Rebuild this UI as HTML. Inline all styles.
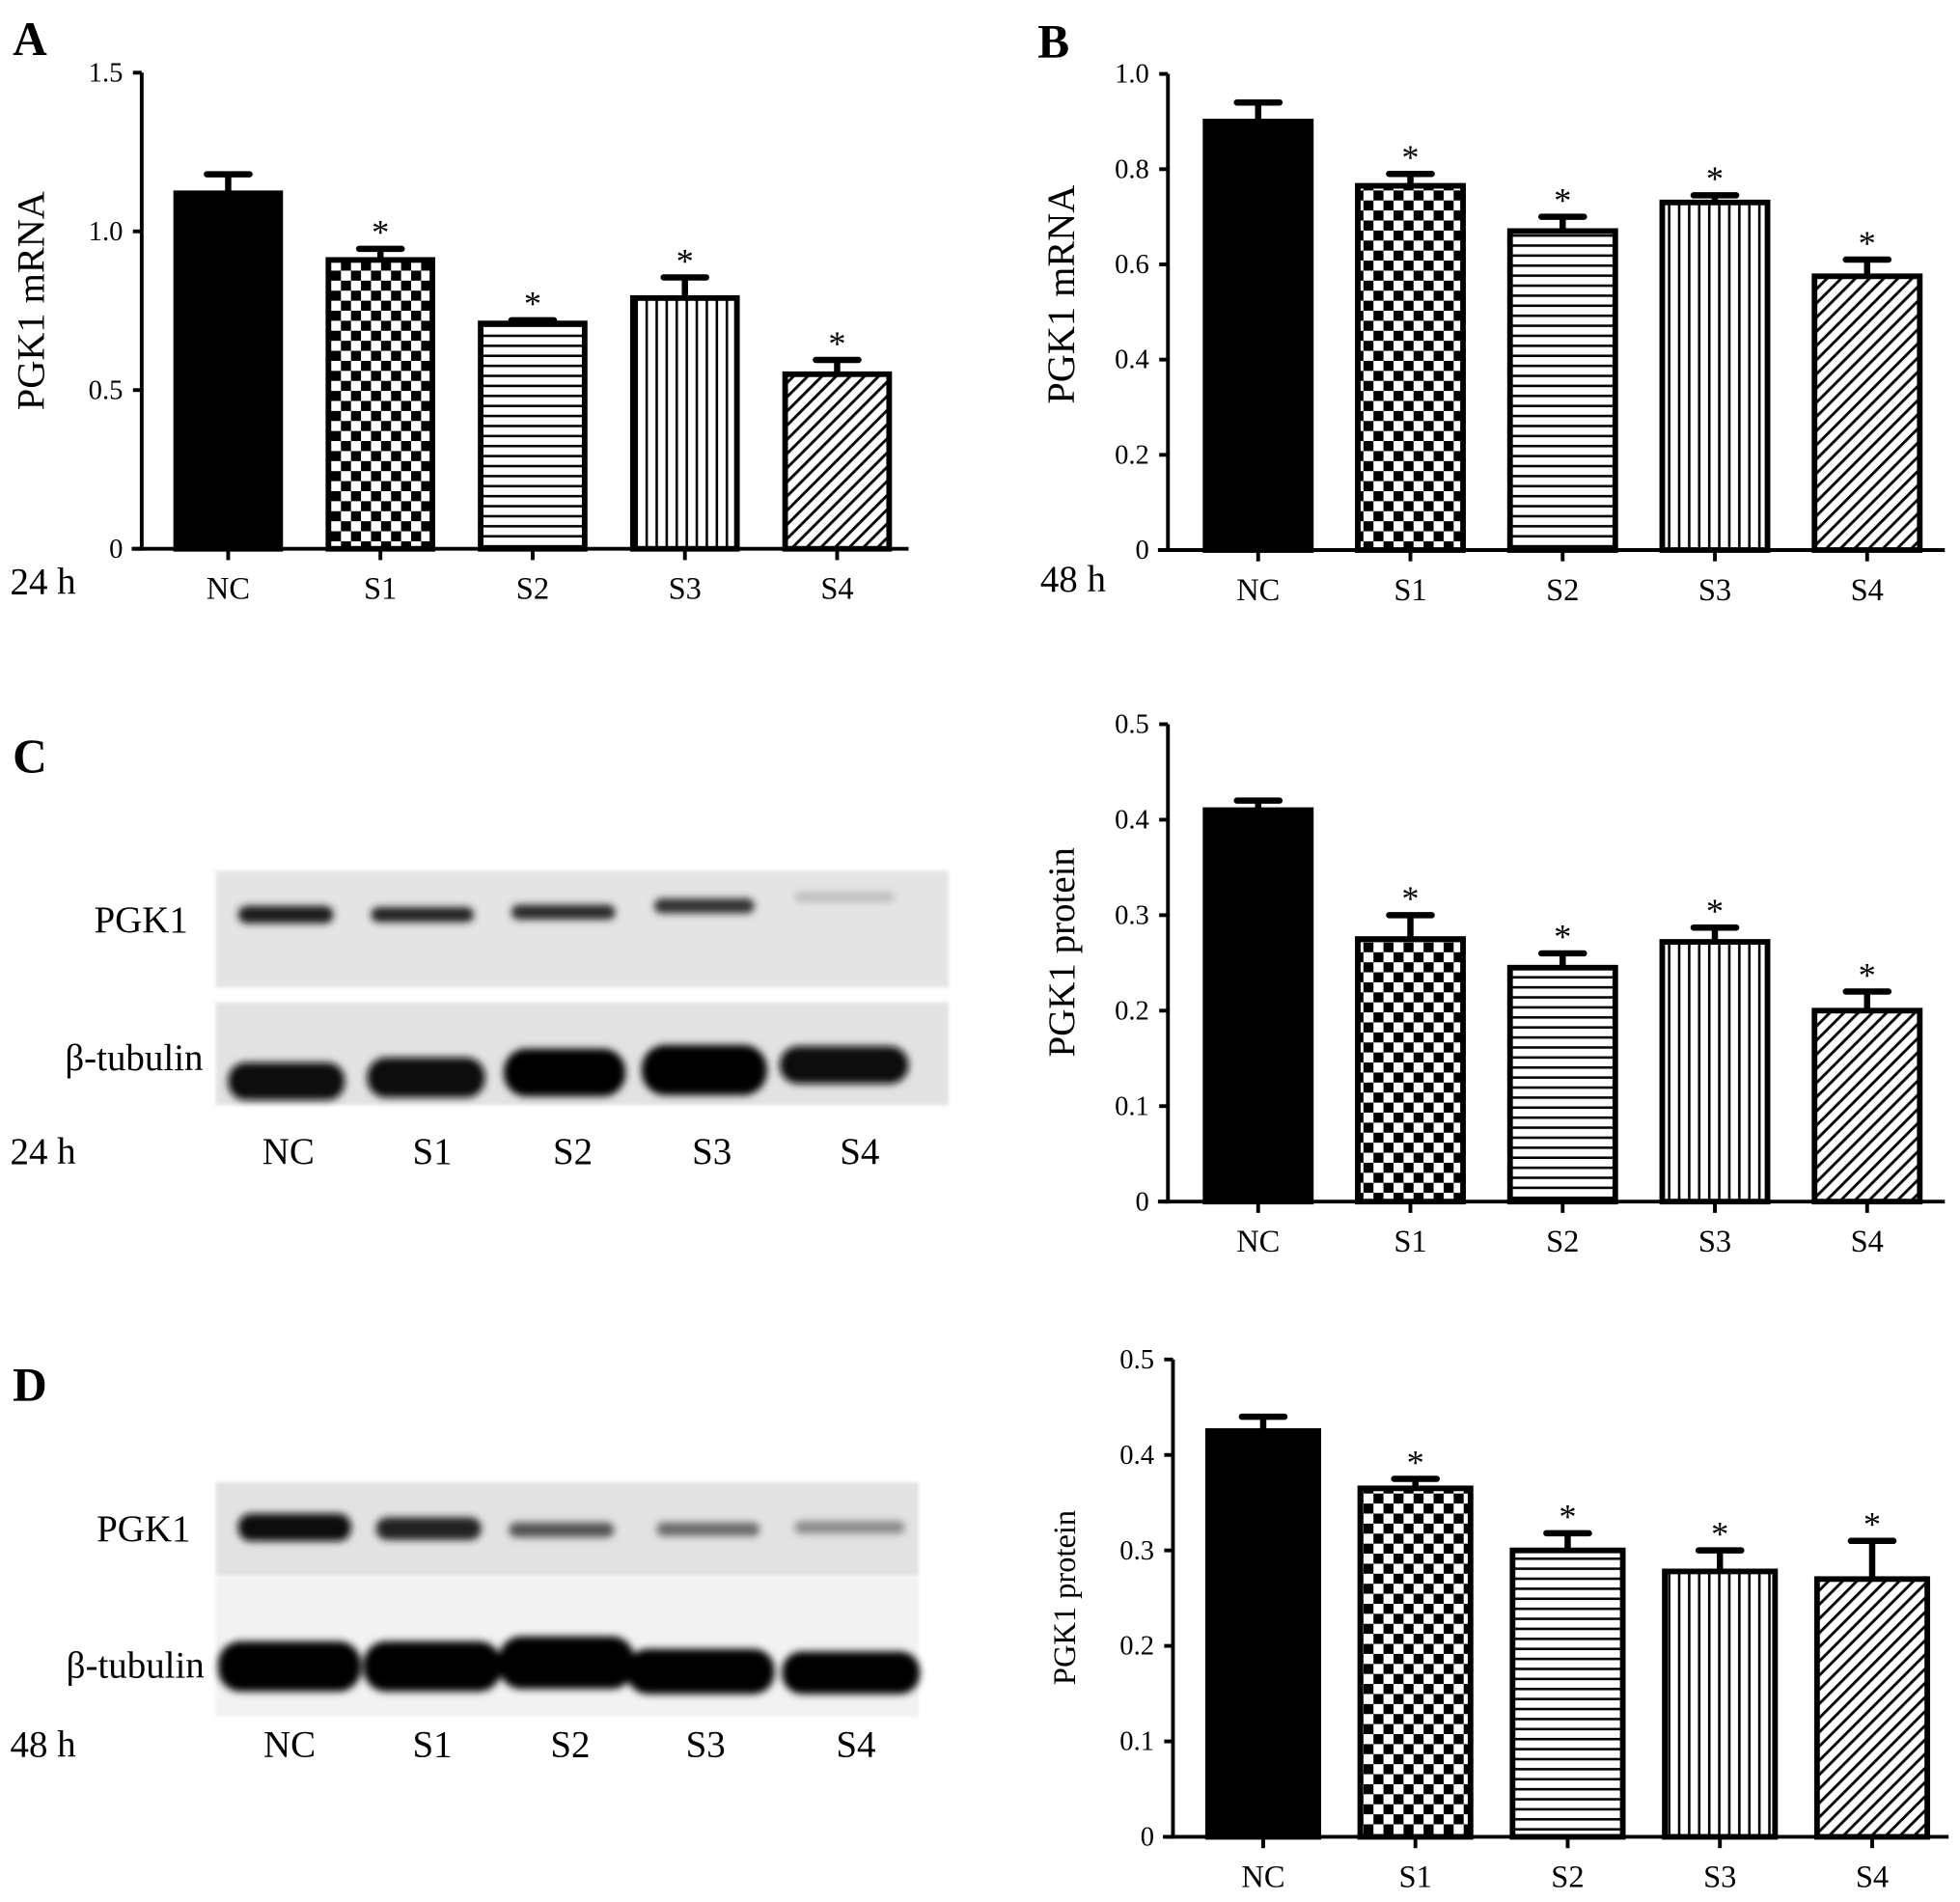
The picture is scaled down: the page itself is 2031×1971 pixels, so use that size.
<!DOCTYPE html>
<html><head><meta charset="utf-8">
<style>
html,body{margin:0;padding:0;background:#fff;}
svg{display:block;font-family:"Liberation Serif",serif;}
</style></head>
<body>
<svg id="fig" width="2031" height="1971" viewBox="0 0 1564 1518" xmlns="http://www.w3.org/2000/svg">
<defs>
<pattern id="p-check" width="16" height="16" patternUnits="userSpaceOnUse">
<rect width="16" height="16" fill="#fff"/><rect width="8" height="8" fill="#000"/><rect x="8" y="8" width="8" height="8" fill="#000"/></pattern>
<pattern id="p-hor" width="8" height="8" patternUnits="userSpaceOnUse">
<rect width="8" height="8" fill="#fff"/><rect y="3" width="8" height="2" fill="#000"/></pattern>
<pattern id="p-ver" width="8" height="8" patternUnits="userSpaceOnUse">
<rect width="8" height="8" fill="#fff"/><rect x="3" width="2" height="8" fill="#000"/></pattern>
<pattern id="p-diag" width="8" height="8" patternUnits="userSpaceOnUse" patternTransform="rotate(45)">
<rect width="8" height="8" fill="#fff"/><rect x="3" width="2.2" height="8" fill="#000"/></pattern>
<filter id="blur" x="-20%" y="-50%" width="140%" height="200%"><feGaussianBlur stdDeviation="3"/></filter>
<filter id="blur2"><feGaussianBlur stdDeviation="1.5"/></filter>
</defs>

<text x="10" y="44" font-size="38" font-weight="bold">A</text>
<text x="828" y="46" font-size="38" font-weight="bold">B</text>
<text x="10" y="616" font-size="38" font-weight="bold">C</text>
<text x="10" y="1118" font-size="38" font-weight="bold">D</text>

<g>
<rect x="172" y="695" width="585" height="93" fill="#e4e4e4" filter="url(#blur2)"/>
<rect x="172" y="800" width="585" height="82" fill="#e2e2e2" filter="url(#blur2)"/>
<g filter="url(#blur)">
<rect x="190" y="723" width="76" height="14" rx="7" fill="#1c1c1c"/>
<rect x="296" y="724" width="82" height="12" rx="6" fill="#222"/>
<rect x="408" y="722" width="83" height="12" rx="6" fill="#2a2a2a"/>
<rect x="522" y="717" width="80" height="12" rx="6" fill="#303030"/>
<rect x="634" y="712" width="80" height="8" rx="4" fill="#bdbdbd"/>
<rect x="182" y="848" width="93" height="30" rx="14" fill="#0a0a0a"/>
<rect x="293" y="844" width="94" height="32" rx="15" fill="#0a0a0a"/>
<rect x="402" y="837" width="97" height="38" rx="18" fill="#050505"/>
<rect x="512" y="834" width="100" height="40" rx="19" fill="#050505"/>
<rect x="622" y="835" width="103" height="30" rx="15" fill="#080808"/>
</g>
</g>
<text x="150" y="744" font-size="30" text-anchor="end">PGK1</text>
<text x="162" y="854" font-size="30" text-anchor="end">β-tubulin</text>
<text x="8" y="929" font-size="30">24 h</text>
<g font-size="30" text-anchor="middle">
<text x="230" y="929">NC</text><text x="345" y="929">S1</text><text x="457" y="929">S2</text><text x="568" y="929">S3</text><text x="686" y="929">S4</text></g>

<g>
<rect x="172" y="1183" width="561" height="75" fill="#e2e2e2" filter="url(#blur2)"/>
<rect x="172" y="1258" width="561" height="112" fill="#f2f2f2" filter="url(#blur2)"/>
<g filter="url(#blur)">
<rect x="190" y="1208" width="90" height="22" rx="10" fill="#0d0d0d"/>
<rect x="300" y="1211" width="84" height="18" rx="9" fill="#222"/>
<rect x="406" y="1215" width="84" height="12" rx="6" fill="#555"/>
<rect x="524" y="1215" width="82" height="11" rx="5" fill="#6a6a6a"/>
<rect x="634" y="1214" width="88" height="10" rx="5" fill="#8a8a8a"/>
<rect x="174" y="1310" width="114" height="40" rx="18" fill="#050505"/>
<rect x="290" y="1310" width="110" height="40" rx="18" fill="#050505"/>
<rect x="398" y="1306" width="108" height="42" rx="18" fill="#050505"/>
<rect x="500" y="1316" width="118" height="36" rx="17" fill="#050505"/>
<rect x="624" y="1318" width="110" height="34" rx="16" fill="#050505"/>
</g>
</g>
<text x="152" y="1230" font-size="30" text-anchor="end">PGK1</text>
<text x="163" y="1339" font-size="30" text-anchor="end">β-tubulin</text>
<text x="8" y="1402" font-size="30">48 h</text>
<g font-size="30" text-anchor="middle">
<text x="231" y="1402">NC</text><text x="345" y="1402">S1</text><text x="455" y="1402">S2</text><text x="563" y="1402">S3</text><text x="683" y="1402">S4</text></g>

<text x="8" y="474" font-size="30">24 h</text>
<text x="830" y="472" font-size="30">48 h</text>
</svg>

<script>
const categories = ["NC","S1","S2","S3","S4"];
const valuesA = [1.12, 0.91, 0.71, 0.79, 0.55];
const errA = [0.06, 0.035, 0.01, 0.065, 0.045];
const valuesB = [0.90, 0.765, 0.67, 0.73, 0.575];
const errB = [0.04, 0.025, 0.03, 0.015, 0.035];
const valuesC = [0.41, 0.275, 0.245, 0.272, 0.20];
const errC = [0.01, 0.025, 0.015, 0.015, 0.02];
const valuesD = [0.425, 0.365, 0.30, 0.278, 0.27];
const errD = [0.015, 0.01, 0.018, 0.022, 0.04];
const ticksA = ["0","0.5","1.0","1.5"];
const ticksB = ["0","0.2","0.4","0.6","0.8","1.0"];
const ticksCD = ["0","0.1","0.2","0.3","0.4","0.5"];
const sig = [false, true, true, true, true];

const NS = "http://www.w3.org/2000/svg";
const svg = document.getElementById("fig");
const fills = ["#000","url(#p-check)","url(#p-hor)","url(#p-ver)","url(#p-diag)"];
function mk(tag, attrs, parent){const e=document.createElementNS(NS,tag);for(const k in attrs)e.setAttribute(k,attrs[k]);(parent||svg).appendChild(e);return e;}

function chart(cfg){
  const g = mk("g",{});
  
  
  const ymax = parseFloat(cfg.ticks[cfg.ticks.length-1]);
  const y = v => cfg.y0 - (v/ymax)*(cfg.y0-cfg.yTop);
  const x = i => cfg.firstC + i*cfg.step;
  cfg.vals.forEach((v,i)=>{
    const top = y(v), e = y(v+cfg.err[i]);
    const eb = mk("path",{d:`M${x(i)} ${top} V${e} M${x(i)-17} ${e} H${x(i)+17}`,stroke:"#000","stroke-width":5,"stroke-linecap":"round",fill:"none"},g);
    
    
    const r = mk("rect",{x:x(i)-cfg.bw/2,y:top,width:cfg.bw,height:cfg.y0-top,fill:fills[i],stroke:"#000","stroke-width":4.5},g);
    
    
    if(sig[i]){
      const s = mk("text",{x:x(i),y:e-4,"font-size":28,"text-anchor":"middle"},g);
      s.textContent="*";
      
      
    }
  });
  const ya = mk("line",{x1:cfg.x0,y1:cfg.yTop,x2:cfg.x0,y2:cfg.y0+1.5,stroke:"#000","stroke-width":3},g);
  
  
  const xa = mk("line",{x1:cfg.x0-8,y1:cfg.y0,x2:cfg.xEnd,y2:cfg.y0,stroke:"#000","stroke-width":3},g);
  
  
  cfg.ticks.forEach(t=>{
    const ty = y(parseFloat(t));
    const tl = mk("line",{x1:cfg.x0-7,y1:ty,x2:cfg.x0,y2:ty,stroke:"#000","stroke-width":3},g);
    
    
    const tt = mk("text",{x:cfg.x0-15,y:ty+7,"font-size":cfg.tfs,"text-anchor":"end"},g);
    tt.textContent=t;
    
    
  });
  categories.forEach((c,i)=>{
    const tl = mk("line",{x1:x(i),y1:cfg.y0,x2:x(i),y2:cfg.y0+9,stroke:"#000","stroke-width":3},g);
    
    
    const tt = mk("text",{x:x(i),y:cfg.y0+40,"font-size":cfg.cfs,"text-anchor":"middle"},g);
    tt.textContent=c;
    
    
  });
  const yl = mk("text",{x:0,y:0,"font-size":cfg.lfs,"text-anchor":"middle",transform:`translate(${cfg.lx},${cfg.ly}) rotate(-90)`},g);
  yl.textContent = cfg.label;
  
  
}

chart({name:"chart-a",vals:valuesA,err:errA,ticks:ticksA,x0:113,y0:438,yTop:58,xEnd:725,firstC:182,step:121.5,bw:83,tfs:22,cfs:25,lfs:31,lx:35,ly:240,label:"PGK1 mRNA"});
chart({name:"chart-b",vals:valuesB,err:errB,ticks:ticksB,x0:932,y0:439,yTop:59,xEnd:1552,firstC:1004,step:121.5,bw:84,tfs:22,cfs:25,lfs:31,lx:857,ly:235,label:"PGK1 mRNA"});
chart({name:"chart-c",vals:valuesC,err:errC,ticks:ticksCD,x0:932,y0:959,yTop:578,xEnd:1552,firstC:1004,step:121.5,bw:84,tfs:22,cfs:25,lfs:30,lx:857,ly:760,label:"PGK1 protein"});
chart({name:"chart-d",vals:valuesD,err:errD,ticks:ticksCD,x0:936,y0:1466,yTop:1085,xEnd:1555,firstC:1008,step:121.5,bw:88,tfs:22,cfs:25,lfs:25,lx:858,ly:1275,label:"PGK1 protein"});
</script>
</body></html>
